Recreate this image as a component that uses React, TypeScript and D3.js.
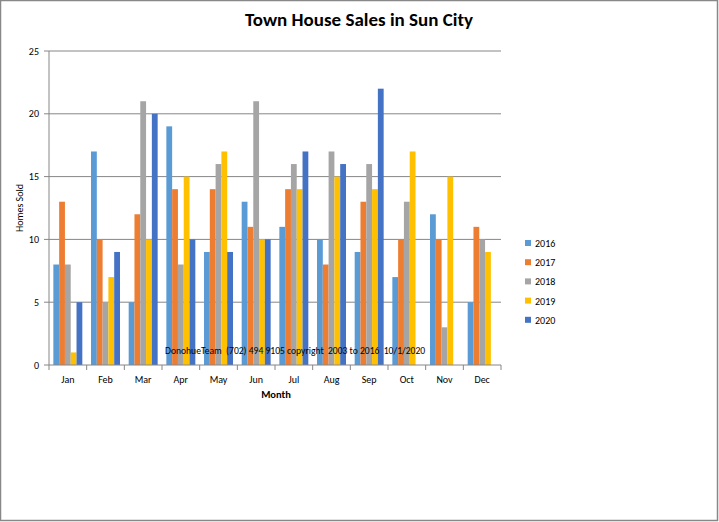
import React from "react";
import * as d3 from "d3";

const months = ["Jan", "Feb", "Mar", "Apr", "May", "Jun", "Jul", "Aug", "Sep", "Oct", "Nov", "Dec"];
const years = ["2016", "2017", "2018", "2019", "2020"];
const s2016 = [8, 17, 5, 19, 9, 13, 11, 10, 9, 7, 12, 5];
const s2017 = [13, 10, 12, 14, 14, 11, 14, 8, 13, 10, 10, 11];
const s2018 = [8, 5, 21, 8, 16, 21, 16, 17, 16, 13, 3, 10];
const s2019 = [1, 7, 10, 15, 17, 10, 14, 15, 14, 17, 15, 9];
const s2020: (number | null)[] = [5, 9, 20, 10, 9, 10, 17, 16, 22, null, null, null];
const yTicks = [0, 5, 10, 15, 20, 25];
const colors = ["#5B9BD5", "#ED7D31", "#A5A5A5", "#FFC000", "#4472C4"];

const series = [s2016, s2017, s2018, s2019, s2020];

const W = 719, H = 522;
const left = 49, right = 501, top = 51, bottom = 365;

export default function App() {
  const x = d3.scaleBand().domain(months).range([left, right]).paddingInner(0).paddingOuter(0);
  const inner = d3.scaleBand().domain(years).range([0, x.bandwidth()]).paddingInner(0).paddingOuter(0.75);
  const y = d3.scaleLinear().domain([0, 25]).range([bottom, top]);
  const font = "Calibri, Carlito, 'Open Sans', 'Liberation Sans', sans-serif";
  return (
    <svg width={W} height={H} style={{ position: "absolute", left: 0, top: 0, background: "#fff" }} fontFamily={font}>
      <rect x={0.5} y={0.5} width={W - 2} height={H - 2} fill="#fff" stroke="#888" strokeWidth={1.5} />
      <text x={359} y={26} textAnchor="middle" fontSize={19} fontWeight="bold" fill="#000">Town House Sales in Sun City</text>
      {yTicks.map((t) => (
        <g key={t}>
          {t > 0 && <line x1={left} x2={right} y1={y(t)} y2={y(t)} stroke="#868686" strokeWidth={1} />}
          <line x1={left - 5} x2={left} y1={y(t)} y2={y(t)} stroke="#868686" />
          <text x={39} y={y(t) + 3.5} textAnchor="end" fontSize={10} fill="#000">{t}</text>
        </g>
      ))}
      {series.map((s, si) =>
        s.map((v, mi) =>
          v == null ? null : (
            <rect key={si + "-" + mi} x={(x(months[mi]) as number) + (inner(years[si]) as number)} width={inner.bandwidth()} y={y(v)} height={y(0) - y(v)} fill={colors[si]} />
          )
        )
      )}
      <line x1={left} x2={left} y1={top} y2={bottom} stroke="#868686" />
      <line x1={left} x2={right} y1={bottom} y2={bottom} stroke="#868686" />
      {months.map((m, i) => (
        <g key={m}>
          <line x1={(x(m) as number)} x2={(x(m) as number)} y1={bottom} y2={bottom + 5} stroke="#868686" />
          <text x={(x(m) as number) + x.bandwidth() / 2} y={383} textAnchor="middle" fontSize={10} fill="#000">{m}</text>
        </g>
      ))}
      <line x1={right} x2={right} y1={bottom} y2={bottom + 5} stroke="#868686" />
      <text x={276} y={398} textAnchor="middle" fontSize={10.5} fontWeight="bold" fill="#000">Month</text>
      <text transform={`translate(23,${208}) rotate(-90)`} textAnchor="middle" fontSize={10} fill="#000">Homes Sold</text>
      <text x={165} y={354} fontSize={9.6} fill="#000" style={{ whiteSpace: "pre" }}>DonohueTeam  (702) 494 9105 copyright  2003 to 2016  10/1/2020</text>
      {years.map((yr, i) => (
        <g key={yr}>
          <rect x={525} y={240 + i * 19.2} width={6} height={6} fill={colors[i]} />
          <text x={535} y={247 + i * 19.2} fontSize={10} fill="#000">{yr}</text>
        </g>
      ))}
    </svg>
  );
}
